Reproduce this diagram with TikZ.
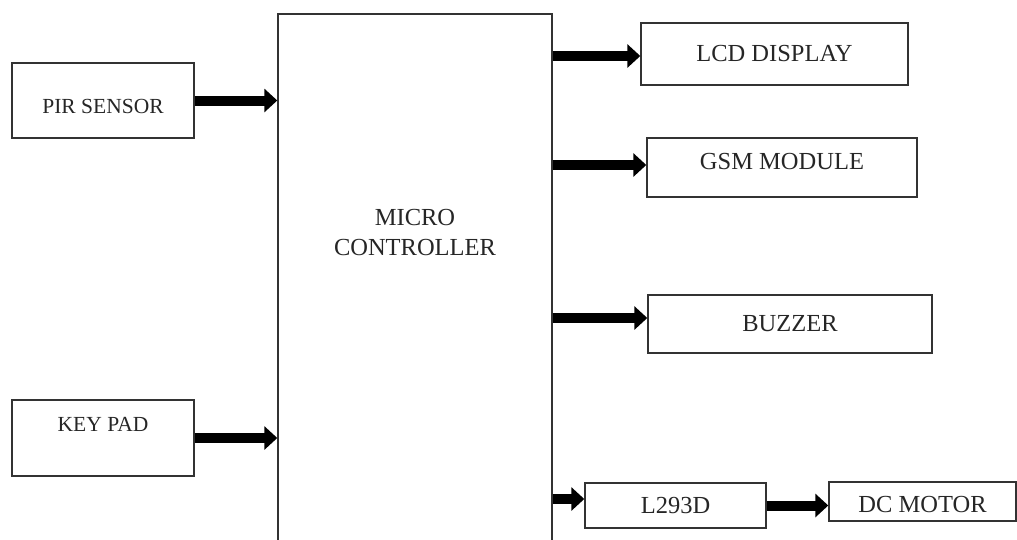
\documentclass[tikz,border=0pt]{standalone}
\usepackage{fontspec}
\setmainfont{Liberation Serif}
\usetikzlibrary{arrows.meta}
\tikzset{
  blockbox/.style={draw=black!80, line width=1.4pt, inner sep=0pt, font=\fontsize{24.5}{30}\selectfont, text=black!85},
  smallbox/.style={blockbox, font=\fontsize{21.5}{30}\selectfont},
  bigarrow/.style={line width=10pt, -{Triangle[length=13pt 0 0,width=23pt 0 0]}}
}
\begin{document}
\begin{tikzpicture}[x=1pt,y=-1pt]
  \useasboundingbox (0,0) rectangle (1017,539);
  % controller
  \node[blockbox, minimum width=274pt, minimum height=531pt] (mc) at (415,279.5)
    {\raisebox{113pt}{\begin{tabular}{@{}c@{}}MICRO\\CONTROLLER\end{tabular}}};
  % inputs
  \node[smallbox, minimum width=182pt, minimum height=75pt, text height=27pt] (pir) at (103,100.5) {PIR SENSOR};
  \node[smallbox, minimum width=182pt, minimum height=76pt] (key) at (103,438) {\raisebox{27pt}{KEY PAD}};
  % outputs
  \node[blockbox, minimum width=267pt, minimum height=62pt] (lcd) at (774.5,54) {LCD DISPLAY};
  \node[blockbox, minimum width=270pt, minimum height=59pt] (gsm) at (782,167.5) {\raisebox{13pt}{GSM MODULE}};
  \node[blockbox, minimum width=284pt, minimum height=58pt] (bz) at (790,324) {BUZZER};
  \node[blockbox, minimum width=181pt, minimum height=45pt] (drv) at (675.5,505.5) {L293D};
  \node[blockbox, minimum width=187pt, minimum height=39pt, text height=23pt] (dcm) at (922.5,501.5) {DC MOTOR};
  % arrows
  \draw[bigarrow] (pir.east) -- (pir.east -| mc.west);
  \draw[bigarrow] (key.east) -- (key.east -| mc.west);
  \draw[bigarrow] ([yshift=-2pt]lcd.west -| mc.east) -- ([yshift=-2pt]lcd.west);
  \draw[bigarrow] ([yshift=2.5pt]gsm.west -| mc.east) -- ([yshift=2.5pt]gsm.west);
  \draw[bigarrow] ([yshift=6pt]bz.west -| mc.east) -- ([yshift=6pt]bz.west);
  \draw[bigarrow] ([yshift=6.5pt]drv.west -| mc.east) -- ([yshift=6.5pt]drv.west);
  \draw[bigarrow] (drv.east) -- (drv.east -| dcm.west);
\end{tikzpicture}
\end{document}
